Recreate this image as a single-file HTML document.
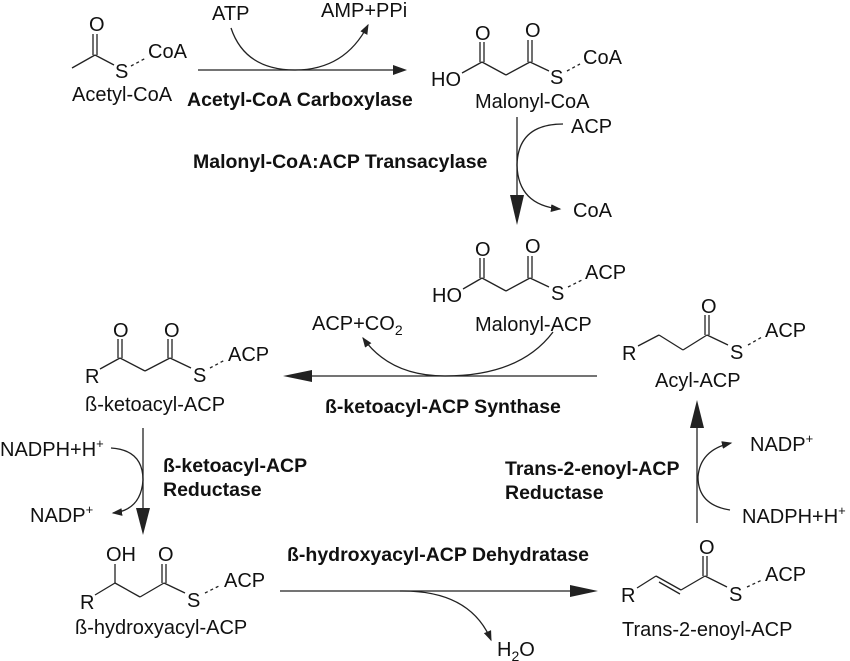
<!DOCTYPE html>
<html><head><meta charset="utf-8"><style>
html,body{margin:0;padding:0;background:#fff}
svg{display:block}
text{font-family:"Liberation Sans",Arial,sans-serif;fill:#111}
.t{font-size:20px}
.b{font-size:19.5px;font-weight:bold}
.s{font-size:20px}
line,path.bd{stroke:#222;stroke-width:1.3;fill:none}
.ar{stroke:#222;stroke-width:1.3;fill:none}
.dash{stroke-dasharray:3,3}
</style></head><body>
<svg width="850" height="661" viewBox="0 0 850 661" xmlns="http://www.w3.org/2000/svg">
<defs>
<marker id="sm" markerWidth="8" markerHeight="6" refX="7" refY="3" orient="auto"><path d="M0,0 L8,3 L0,6 z" fill="#222"/></marker>
</defs>

<g>
<line x1="72" y1="68" x2="95" y2="55"/>
<line x1="93" y1="55" x2="93" y2="34"/><line x1="97" y1="55" x2="97" y2="34"/>
<text class="s" x="89" y="31">O</text>
<line x1="95" y1="55" x2="114" y2="65"/>
<text class="s" x="115" y="78">S</text>
<line x1="131" y1="66" x2="146" y2="58" class="dash"/>
<text class="t" x="148" y="58">CoA</text>
<text class="t" x="72" y="101">Acetyl-CoA</text>
</g>
<g>
<line x1="198" y1="70" x2="395" y2="70"/>
<path d="M393,65 L407,70 L393,75 z" fill="#222"/>
<path class="ar" d="M231,28 Q245,70 295,70 Q345,70 368,25" marker-end="url(#sm)"/>
<text class="t" x="212" y="20">ATP</text>
<text class="t" x="321" y="17">AMP+PPi</text>
<text class="b" x="187" y="106">Acetyl-CoA Carboxylase</text>
</g>

<g>
<text class="s" x="431" y="86">HO</text>
<line x1="462" y1="73" x2="482" y2="62"/>
<line x1="480" y1="62" x2="480" y2="42"/><line x1="484" y1="62" x2="484" y2="42"/>
<text class="s" x="475" y="40">O</text>
<line x1="482" y1="62" x2="506" y2="75"/><line x1="506" y1="75" x2="530" y2="62"/>
<line x1="528" y1="62" x2="528" y2="40"/><line x1="532" y1="62" x2="532" y2="40"/>
<text class="s" x="525" y="37">O</text>
<line x1="530" y1="62" x2="549" y2="71"/>
<text class="s" x="550" y="84">S</text>
<line x1="567" y1="71" x2="580" y2="64" class="dash"/>
<text class="t" x="583" y="64">CoA</text>
<text class="t" x="475" y="108">Malonyl-CoA</text>
</g>
<g>
<line x1="517" y1="117" x2="517" y2="212"/>
<path d="M510,195 L517,225 L524,195 z" fill="#222"/>
<path class="ar" d="M563,124 Q518,124 517,165 Q518,205 560,209" marker-end="url(#sm)"/>
<text class="t" x="571" y="133">ACP</text>
<text class="t" x="573" y="217">CoA</text>
<text class="b" x="193" y="168">Malonyl-CoA:ACP Transacylase</text>
</g>

<g>
<text class="s" x="432" y="302">HO</text>
<line x1="463" y1="289" x2="482" y2="278"/>
<line x1="480" y1="278" x2="480" y2="258"/><line x1="484" y1="278" x2="484" y2="258"/>
<text class="s" x="475" y="256">O</text>
<line x1="482" y1="278" x2="506" y2="291"/><line x1="506" y1="291" x2="530" y2="278"/>
<line x1="528" y1="278" x2="528" y2="256"/><line x1="532" y1="278" x2="532" y2="256"/>
<text class="s" x="525" y="253">O</text>
<line x1="530" y1="278" x2="549" y2="287"/>
<text class="s" x="551" y="300">S</text>
<line x1="568" y1="287" x2="582" y2="280" class="dash"/>
<text class="t" x="585" y="279">ACP</text>
<text class="t" x="475" y="331">Malonyl-ACP</text>
</g>
<g>
<line x1="597" y1="376" x2="300" y2="376"/>
<path d="M312,370 L283,376 L312,382 z" fill="#222"/>
<path class="ar" d="M553,332 Q520,376 445,376 Q390,376 363,338" marker-end="url(#sm)"/>
<text class="t" x="312" y="330">ACP+CO<tspan font-size="14" dy="5">2</tspan></text>
<text class="b" x="325" y="413">ß-ketoacyl-ACP Synthase</text>
</g>

<g>
<text class="s" x="85" y="383">R</text>
<line x1="100" y1="369" x2="120" y2="358"/>
<line x1="118" y1="358" x2="118" y2="339"/><line x1="122" y1="358" x2="122" y2="339"/>
<text class="s" x="113" y="337">O</text>
<line x1="120" y1="358" x2="145" y2="371"/><line x1="145" y1="371" x2="170" y2="358"/>
<line x1="168" y1="358" x2="168" y2="339"/><line x1="172" y1="358" x2="172" y2="339"/>
<text class="s" x="164" y="337">O</text>
<line x1="170" y1="358" x2="191" y2="368"/>
<text class="s" x="193" y="382">S</text>
<line x1="210" y1="368" x2="225" y2="360" class="dash"/>
<text class="t" x="228" y="361">ACP</text>
<text class="t" x="85" y="411">ß-ketoacyl-ACP</text>
</g>
<g>
<line x1="143" y1="428" x2="143" y2="520"/>
<path d="M136,508 L143,535 L150,508 z" fill="#222"/>
<path class="ar" d="M111,448 Q143,450 143,480 Q141,510 113,513" marker-end="url(#sm)"/>
<text class="t" x="0" y="456">NADPH+H<tspan font-size="13" dy="-8">+</tspan></text>
<text class="t" x="30" y="522">NADP<tspan font-size="13" dy="-8">+</tspan></text>
<text class="b" x="163" y="472">ß-ketoacyl-ACP</text>
<text class="b" x="163" y="496">Reductase</text>
</g>

<g>
<text class="s" x="80" y="609">R</text>
<line x1="95" y1="595" x2="115" y2="583"/>
<line x1="115" y1="583" x2="115" y2="564"/>
<text class="s" x="106" y="561">OH</text>
<line x1="115" y1="583" x2="140" y2="597"/><line x1="140" y1="597" x2="164" y2="583"/>
<line x1="162" y1="583" x2="162" y2="564"/><line x1="166" y1="583" x2="166" y2="564"/>
<text class="s" x="158" y="561">O</text>
<line x1="164" y1="583" x2="185" y2="593"/>
<text class="s" x="187" y="607">S</text>
<line x1="205" y1="593" x2="221" y2="585" class="dash"/>
<text class="t" x="224" y="587">ACP</text>
<text class="t" x="75" y="634">ß-hydroxyacyl-ACP</text>
</g>
<g>
<line x1="280" y1="591" x2="585" y2="591"/>
<path d="M570,585 L598,591 L570,597 z" fill="#222"/>
<path class="ar" d="M400,591 Q470,590 491,640" marker-end="url(#sm)"/>
<text class="t" x="497" y="656">H<tspan font-size="14" dy="5">2</tspan><tspan dy="-5">O</tspan></text>
<text class="b" x="287" y="561">ß-hydroxyacyl-ACP Dehydratase</text>
</g>

<g>
<text class="s" x="621" y="602">R</text>
<line x1="637" y1="588" x2="656" y2="576"/>
<line x1="656" y1="576" x2="681" y2="590"/><line x1="659" y1="582" x2="680" y2="594"/>
<line x1="681" y1="590" x2="705" y2="576"/>
<line x1="703" y1="576" x2="703" y2="556"/><line x1="707" y1="576" x2="707" y2="556"/>
<text class="s" x="699" y="554">O</text>
<line x1="705" y1="576" x2="727" y2="587"/>
<text class="s" x="729" y="601">S</text>
<line x1="747" y1="587" x2="762" y2="580" class="dash"/>
<text class="t" x="765" y="581">ACP</text>
<text class="t" x="622" y="636">Trans-2-enoyl-ACP</text>
</g>
<g>
<line x1="697" y1="523" x2="697" y2="412"/>
<path d="M690,428 L697,400 L704,428 z" fill="#222"/>
<path class="ar" d="M730,510 Q698,505 698,477 Q700,450 731,443" marker-end="url(#sm)"/>
<text class="t" x="750" y="451">NADP<tspan font-size="13" dy="-8">+</tspan></text>
<text class="t" x="742" y="523">NADPH+H<tspan font-size="13" dy="-8">+</tspan></text>
<text class="b" x="505" y="475">Trans-2-enoyl-ACP</text>
<text class="b" x="505" y="499">Reductase</text>
</g>

<g>
<text class="s" x="622" y="360">R</text>
<line x1="638" y1="346" x2="659" y2="335"/>
<line x1="659" y1="335" x2="683" y2="350"/><line x1="683" y1="350" x2="707" y2="335"/>
<line x1="705" y1="335" x2="705" y2="315"/><line x1="709" y1="335" x2="709" y2="315"/>
<text class="s" x="701" y="313">O</text>
<line x1="707" y1="335" x2="728" y2="345"/>
<text class="s" x="730" y="359">S</text>
<line x1="748" y1="345" x2="762" y2="337" class="dash"/>
<text class="t" x="765" y="337">ACP</text>
<text class="t" x="655" y="387">Acyl-ACP</text>
</g>
</svg>
</body></html>
